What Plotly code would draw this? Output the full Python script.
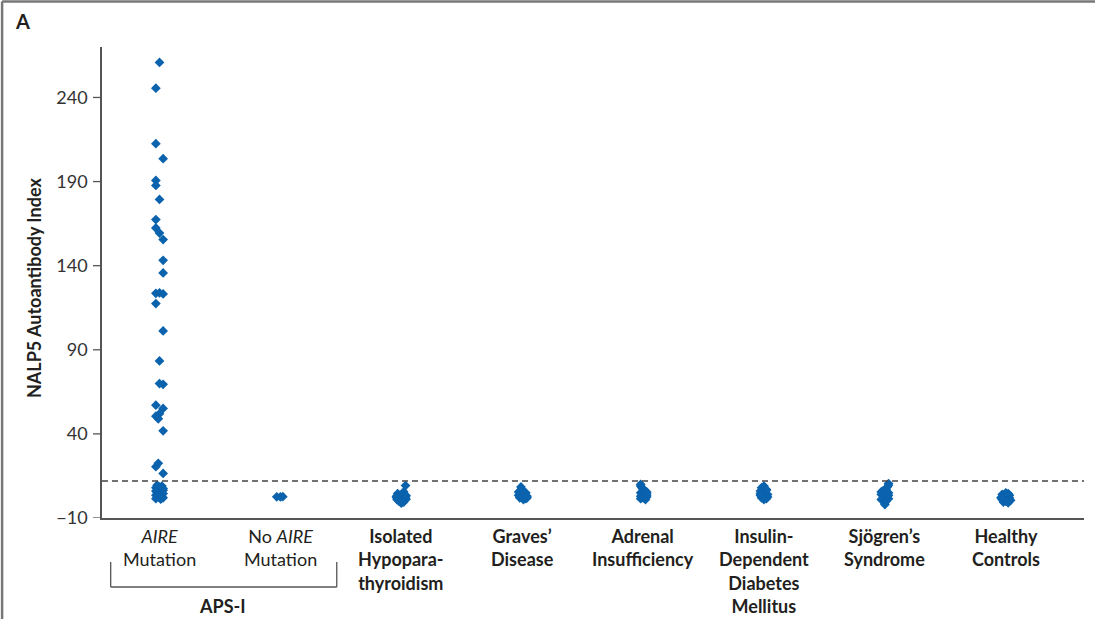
import plotly.graph_objects as go

# ---------------- data ----------------
categories = [
    "<i>AIRE</i><br>Mutation",
    "No <i>AIRE</i><br>Mutation",
    "<b>Isolated<br>Hypopara-<br>thyroidism</b>",
    "<b>Graves’<br>Disease</b>",
    "<b>Adrenal<br>Insufficiency</b>",
    "<b>Insulin-<br>Dependent<br>Diabetes<br>Mellitus</b>",
    "<b>Sjögren’s<br>Syndrome</b>",
    "<b>Healthy<br>Controls</b>",
]

aire_values = [260.8, 245.5, 212.5, 203.6, 190.7, 187.7, 179.4, 167.4, 162.4, 159.4,
               155.5, 143.2, 135.7, 123.6, 123.8, 123.2, 117.5, 101.2, 83.4, 69.9,
               69.5, 57.1, 55.1, 50.5, 52.0, 49.0, 41.8, 22.5, 20.5, 16.5,
               9.5, 9.0, 8.5, 8.0, 7.5, 7.0, 6.5, 6.0, 5.5, 5.0, 4.5, 4.0, 3.5,
               3.0, 2.5, 2.0, 1.5, 1.2]
aire_jitter = [0.0, -0.03, -0.03, 0.03, -0.03, -0.03, 0.0, -0.03, -0.03, 0.0,
               0.03, 0.03, 0.03, -0.03, 0.0, 0.03, -0.03, 0.03, 0.0, 0.0,
               0.03, -0.03, 0.03, -0.03, 0.0, -0.01, 0.03, -0.01, -0.03, 0.03,
               -0.02, 0.02, 0.0, -0.03, 0.03, -0.01, 0.03, -0.03, 0.01, -0.02,
               0.03, 0.0, -0.03, 0.02, -0.01, 0.03, -0.03, 0.01]

no_aire_values = [2.6, 2.5, 2.7]
no_aire_jitter = [-0.03, 0.0, 0.02]

hypo_values = [9.3, 5.6, 4.5, 4.0, 3.5, 3.0, 2.5, 2.0, 1.5, 1.0, 0.5, 0.0, -0.5, -1.2, 2.2, 1.2, 3.2]
hypo_jitter = [0.035, 0.02, -0.03, 0.03, 0.0, -0.04, 0.035, -0.01, 0.03, -0.035, 0.01, -0.02, 0.02, 0.0, -0.04, 0.04, 0.04]

graves_values = [8.5, 7.0, 5.5, 5.0, 4.0, 3.5, 3.0, 2.5, 2.0, 1.5, 1.0, 4.5, 2.0]
graves_jitter = [-0.01, 0.0, -0.03, 0.03, 0.0, -0.03, 0.04, 0.0, -0.02, 0.03, 0.01, 0.02, 0.04]

adrenal_values = [10.0, 9.0, 8.0, 7.0, 6.0, 5.0, 4.5, 4.0, 3.0, 2.5, 2.0, 1.5, 1.0, 5.5, 3.5]
adrenal_jitter = [-0.02, -0.02, -0.01, 0.0, 0.02, -0.02, 0.03, 0.0, -0.02, 0.03, 0.0, -0.02, 0.02, 0.03, 0.03]

iddm_values = [9.0, 8.0, 7.0, 6.0, 5.0, 4.0, 3.5, 3.0, 2.5, 2.0, 1.5, 1.0, 6.5, 4.5]
iddm_jitter = [0.0, -0.02, 0.02, -0.03, 0.0, 0.03, -0.03, 0.0, 0.03, -0.02, 0.02, 0.0, 0.02, -0.03]

sjogren_values = [10.5, 9.5, 8.5, 7.0, 6.0, 5.0, 4.0, 3.0, 2.0, 1.0, 0.0, -1.0, -2.0, 5.5, 3.5, 1.5]
sjogren_jitter = [0.03, 0.03, 0.02, 0.01, -0.02, 0.03, -0.03, 0.0, 0.02, -0.03, 0.01, 0.0, 0.0, -0.03, 0.03, 0.03]

healthy_values = [5.0, 4.0, 3.5, 3.0, 2.5, 2.0, 1.5, 1.0, 0.5, 0.0, -0.5, -1.0, 4.5, 2.0, 0.5]
healthy_jitter = [0.0, -0.03, 0.03, 0.0, -0.03, 0.03, 0.0, -0.03, 0.03, 0.0, -0.02, 0.02, 0.02, -0.04, 0.04]

cutoff = 12
y_ticks = [-10, 40, 90, 140, 190, 240]
y_ticktext = ["\u221210", "40", "90", "140", "190", "240"]

groups = [
    (aire_values, aire_jitter),
    (no_aire_values, no_aire_jitter),
    (hypo_values, hypo_jitter),
    (graves_values, graves_jitter),
    (adrenal_values, adrenal_jitter),
    (iddm_values, iddm_jitter),
    (sjogren_values, sjogren_jitter),
    (healthy_values, healthy_jitter),
]

# ---------------- figure ----------------
BLUE = "#0b62ad"
TEXT = "#231f20"
FONT = "Lato"

fig = go.Figure()
for i, (vals, jit) in enumerate(groups):
    fig.add_trace(go.Scatter(
        x=[i + j for j in jit], y=vals, mode="markers",
        marker=dict(symbol="diamond", size=7.5, color=BLUE, line=dict(width=0)),
        showlegend=False, hoverinfo="y",
    ))

# cutoff line
fig.add_shape(type="line", xref="paper", yref="y", x0=0, x1=1, y0=cutoff, y1=cutoff,
              line=dict(color="#444444", width=1.5, dash="6px,4px"))

fig.update_layout(
    width=1095, height=619,
    margin=dict(l=102, r=11, t=47, b=101),
    paper_bgcolor="white", plot_bgcolor="white",
    font=dict(family=FONT, color=TEXT),
    xaxis=dict(range=[-0.4756, 7.647], showgrid=False, zeroline=False,
               showticklabels=False, ticks="", showline=True,
               linecolor="#555555", linewidth=1.5),
    yaxis=dict(range=[-10, 270], tickvals=y_ticks, ticktext=y_ticktext,
               showgrid=False, zeroline=False, showline=True,
               linecolor="#555555", linewidth=1.5,
               ticks="", ticklabelstandoff=9,
               tickfont=dict(family=FONT, size=18, color="#333333")),
)

# y tick marks (outside, 8 px), one per tick value
def px(xp):
    return (xp - 102) / 983

def py(yp):
    return (518 - yp) / 471

for t in y_ticks:
    fig.add_shape(type="line", xref="paper", yref="y", x0=px(93), x1=0, y0=t, y1=t,
                  line=dict(color="#555555", width=1.3))

# category labels
for i, lab in enumerate(categories):
    fig.add_annotation(x=i, xref="x", y=-0.0106, yref="paper",
                       xanchor="center", yanchor="top",
                       text=lab, showarrow=False, align="center",
                       font=dict(family=FONT, size=18, color=TEXT))

# APS-I bracket
bracket = dict(color="#555555", width=1.3)
fig.add_shape(type="line", xref="paper", yref="paper", x0=px(110.7), x1=px(110.7), y0=py(562), y1=py(587), line=bracket)
fig.add_shape(type="line", xref="paper", yref="paper", x0=px(110.7), x1=px(337), y0=py(587), y1=py(587), line=bracket)
fig.add_shape(type="line", xref="paper", yref="paper", x0=px(337), x1=px(337), y0=py(562), y1=py(587), line=bracket)
fig.add_annotation(x=px(223), y=py(606), xref="paper", yref="paper",
                   xanchor="center", yanchor="middle", text="<b>APS-I</b>",
                   showarrow=False, font=dict(family=FONT, size=18, color=TEXT))

# y-axis title
fig.add_annotation(x=px(34), y=py(288), xref="paper", yref="paper",
                   xanchor="center", yanchor="middle",
                   text="<b>NALP5 Autoantibody Index</b>", textangle=-90,
                   showarrow=False, font=dict(family=FONT, size=18, color=TEXT))

# panel letter
fig.add_annotation(x=px(22), y=py(21), xref="paper", yref="paper",
                   xanchor="center", yanchor="middle", text="<b>A</b>",
                   showarrow=False, font=dict(family=FONT, size=20, color=TEXT))

# panel frame (left and top edges visible)
frame = dict(color="#777777", width=2.5)
fig.add_shape(type="line", xref="paper", yref="paper", x0=px(2), x1=px(1100), y0=py(1.5), y1=py(1.5), line=frame)
fig.add_shape(type="line", xref="paper", yref="paper", x0=px(2), x1=px(2), y0=py(1.5), y1=py(625), line=frame)

fig.write_html("out.html", config={"displayModeBar": False},
               post_script="document.body.style.margin='0';document.body.style.padding='0';")
